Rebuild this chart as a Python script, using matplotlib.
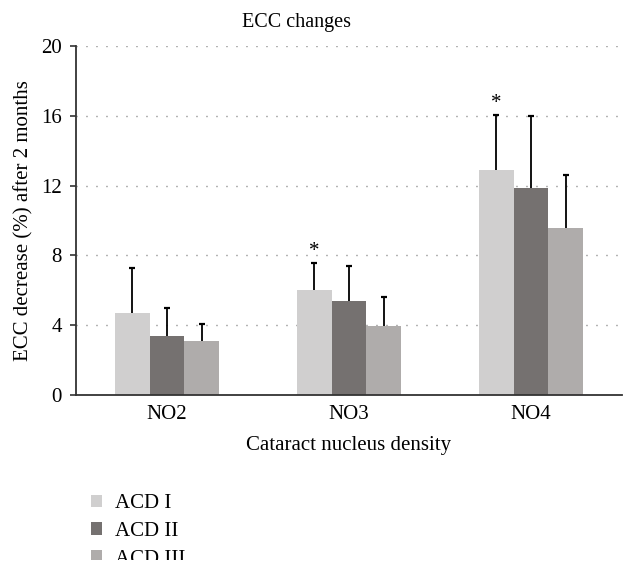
import matplotlib
matplotlib.use('Agg')
import matplotlib.pyplot as plt
from matplotlib.patches import Rectangle
import numpy as np

plt.rcParams['font.family'] = 'serif'
plt.rcParams['font.serif'] = ['Liberation Serif', 'DejaVu Serif']

# values
groups = ['NO2', 'NO3', 'NO4']
series = ['ACD I', 'ACD II', 'ACD III']
means = {
    'ACD I':   [4.69, 6.03, 12.92],
    'ACD II':  [3.39, 5.36, 11.87],
    'ACD III': [3.10, 3.98, 9.57],
}
sds = {
    'ACD I':   [2.58, 1.56, 3.15],
    'ACD II':  [1.59, 2.06, 4.11],
    'ACD III': [0.96, 1.61, 3.02],
}
colors = {'ACD I': '#d0cfcf', 'ACD II': '#757170', 'ACD III': '#afacab'}
# groups marked with an asterisk (ACD I bar)
starred = ['NO3', 'NO4']
yticks = [0, 4, 8, 12, 16, 20]

fig = plt.figure(figsize=(6.36, 5.74), dpi=100)
ax = fig.add_axes([0.1195, 0.3118, 0.8585, 0.6081])

x = np.arange(len(groups))
w = 0.19
for i, s in enumerate(series):
    pos = x + (i - 1) * w
    m = np.array(means[s])
    top = m + np.array(sds[s])
    ax.bar(pos, m, width=w, color=colors[s], label=s, zorder=2)
    # upper error bar only
    ax.vlines(pos, m, top, color='black', linewidth=1.3, zorder=3)
    ax.plot(pos, top, linestyle='none', marker='_', markersize=5,
            markeredgewidth=1.6, color='black', zorder=3)

for g in starred:
    j = groups.index(g)
    top = means['ACD I'][j] + sds['ACD I'][j]
    ax.annotate('*', (x[j] - w, top), xytext=(0, 1), textcoords='offset points',
                ha='center', va='bottom', fontsize=15)

ax.set_xlim(-0.5, 2.5)
ax.set_ylim(0, 20)
ax.set_yticks(yticks)
ax.set_xticks(x)
ax.set_xticklabels(groups)
ax.tick_params(axis='y', length=4, width=1.2, pad=6, labelsize=15, color='#333333')
ax.tick_params(axis='x', length=0, pad=7, labelsize=15)
ax.yaxis.grid(True, linestyle=(0, (0.7, 6.5)), color='#666666', linewidth=1.0, zorder=0)
ax.set_axisbelow(True)
for sp in ['top', 'right']:
    ax.spines[sp].set_visible(False)
for sp in ['left', 'bottom']:
    ax.spines[sp].set_linewidth(1.3)
    ax.spines[sp].set_color('#333333')

ax.set_ylabel('ECC decrease (%) after 2 months', fontsize=15, labelpad=6)
ax.set_xlabel('Cataract nucleus density', fontsize=15, labelpad=9)
fig.text(296 / 636, 1 - 22 / 574, 'ECC changes', ha='center', va='center', fontsize=14.5)

fig.legend(loc='upper left', bbox_to_anchor=(0.13, 1 - 486 / 574), frameon=False,
           fontsize=15, handlelength=0.55, handleheight=0.55, handletextpad=0.62,
           labelspacing=0.42, borderaxespad=0)

# the source figure is cropped just below the legend's last row
fig.patches.append(Rectangle((0, 0), 1, 14 / 574, transform=fig.transFigure,
                             facecolor='white', edgecolor='none', zorder=10))

fig.savefig('out.png', dpi=100)
